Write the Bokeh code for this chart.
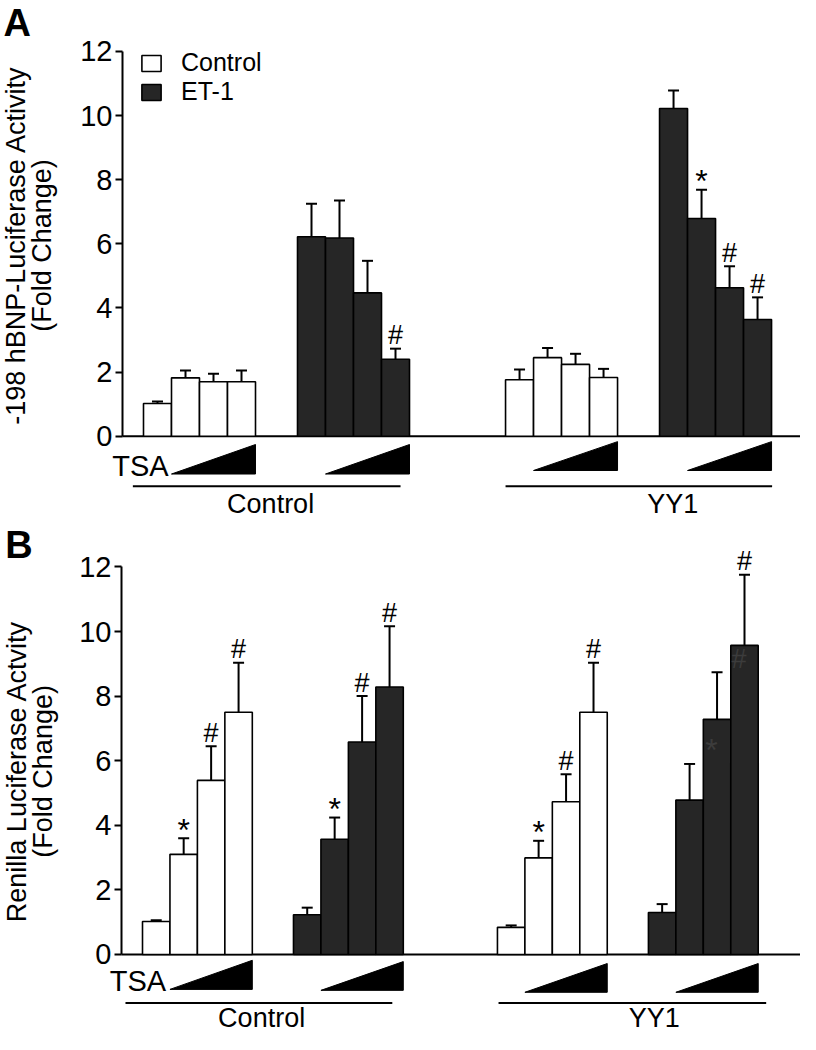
from bokeh.plotting import figure
from bokeh.models import (Range1d, Whisker, TeeHead, ColumnDataSource, Label,
                          FixedTicker, Legend, LegendItem)
from bokeh.layouts import column
from bokeh.embed import file_html
from bokeh.resources import INLINE
from bokeh.core.properties import value

# ---------------- data ----------------
vectors = ["Control", "YY1"]
treatments = ["Control", "ET-1"]
y_ticks = [0, 2, 4, 6, 8, 10, 12]

# Panel A: -198 hBNP-Luciferase activity (fold change), 4 TSA doses per group
a_ctrl_control = [1.02, 1.82, 1.70, 1.70]
a_ctrl_control_sem = [0.06, 0.23, 0.25, 0.35]
a_ctrl_et1 = [6.22, 6.18, 4.47, 2.40]
a_ctrl_et1_sem = [1.03, 1.17, 1.00, 0.33]
a_yy1_control = [1.76, 2.45, 2.24, 1.83]
a_yy1_control_sem = [0.32, 0.30, 0.33, 0.27]
a_yy1_et1 = [10.22, 6.79, 4.63, 3.64]
a_yy1_et1_sem = [0.56, 0.90, 0.67, 0.69]
a_marks = [["", "", "", ""], ["", "", "", "#"], ["", "", "", ""], ["", "*", "#", "#"]]

# Panel B: Renilla luciferase activity (fold change)
b_ctrl_control = [1.02, 3.10, 5.39, 7.50]
b_ctrl_control_sem = [0.04, 0.50, 1.06, 1.53]
b_ctrl_et1 = [1.23, 3.57, 6.58, 8.28]
b_ctrl_et1_sem = [0.22, 0.67, 1.42, 1.88]
b_yy1_control = [0.84, 2.99, 4.73, 7.50]
b_yy1_control_sem = [0.06, 0.53, 0.85, 1.53]
b_yy1_et1 = [1.30, 4.78, 7.28, 9.57]
b_yy1_et1_sem = [0.26, 1.12, 1.46, 2.19]
b_marks = [["", "*", "#", "#"], ["", "*", "#", "#"], ["", "*", "#", "#"], ["", "", "", "#"]]
b_faint_marks = [["", "", "", ""], ["", "", "", ""], ["", "", "", ""], ["", "", "*", "#"]]

FONT = "Liberation Sans"
DARK = "#262626"
GROUP_LEFT = [0.0, 5.5, 12.93, 18.43]


def make_panel(letter, ylab1, ylab2, means, sems, marks, cfg, faint=None):
    p = figure(width=800, height=cfg["height"], output_backend="svg", toolbar_location=None,
               x_range=Range1d(*cfg["xr"]), y_range=Range1d(*cfg["yr"]),
               x_axis_location=None, min_border_left=0, min_border_right=0,
               min_border_top=0, min_border_bottom=0)
    p.outline_line_color = None
    p.xgrid.visible = False
    p.ygrid.visible = False
    p.background_fill_color = "white"

    ax = p.yaxis[0]
    ax.fixed_location = cfg["axis_x"]
    ax.ticker = FixedTicker(ticks=y_ticks)
    ax.bounds = (0, 12)
    ax.axis_line_width = 2
    ax.axis_line_color = "black"
    ax.major_tick_line_width = 2
    ax.major_tick_out = 7
    ax.major_tick_in = 0
    ax.minor_tick_out = 0
    ax.minor_tick_in = 0
    ax.major_label_text_font = FONT
    ax.major_label_text_font_size = "29px"
    ax.major_label_text_color = "black"
    ax.major_label_standoff = 3

    # baseline (x axis line at zero)
    p.line(x=[cfg["axis_x"], cfg["xr"][1]], y=[0, 0], line_color="black", line_width=2)

    renderers = []
    for g in range(4):
        xs = [GROUP_LEFT[g] + i + 0.5 for i in range(4)]
        tops = means[g]
        uppers = [m + s for m, s in zip(means[g], sems[g])]
        fill = "white" if g % 2 == 0 else DARK
        src = ColumnDataSource(dict(x=xs, top=tops, upper=uppers))
        r = p.vbar(x="x", top="top", bottom=0, width=1.0, source=src,
                   fill_color=fill, line_color="black", line_width=1.6)
        renderers.append(r)
        p.add_layout(Whisker(base="x", lower="top", upper="upper", source=src,
                             line_width=2, line_color="black",
                             upper_head=TeeHead(size=11, line_width=2, line_color="black"),
                             lower_head=None))
        for sym, size, off in (("#", "27px", 0.42), ("*", "32px", 0.27)):
            mx = [xs[i] for i in range(4) if marks[g][i] == sym]
            my = [uppers[i] + off for i in range(4) if marks[g][i] == sym]
            if mx:
                p.text(x=mx, y=my, text=[sym] * len(mx), text_font=value(FONT),
                       text_font_size=size, text_align="center",
                       text_baseline="alphabetic", text_color="black")
        if faint:
            for sym, size, drop in (("#", "27px", 0.42), ("*", "32px", 0.94)):
                fx = [xs[i] - 0.2 for i in range(4) if faint[g][i] == sym]
                fy = [tops[i] - drop for i in range(4) if faint[g][i] == sym]
                if fx:
                    p.text(x=fx, y=fy, text=[sym] * len(fx), text_font=value(FONT),
                           text_font_size=size, text_align="center",
                           text_baseline="alphabetic", text_color="#3c3c3c")

        # TSA wedge under bars 2-4
        wb, wt = cfg["wedge_y"][g]
        x0 = GROUP_LEFT[g] + 1
        x1 = GROUP_LEFT[g] + 4
        p.patch(x=[x0, x1, x1], y=[wb, wb, wt], fill_color="black", line_color="black", line_width=1)

    p.text(x=[cfg["tsa_x"]], y=[cfg["wedge_y"][0][0] + 0.25], text=["TSA"], text_font=value(FONT),
           text_font_size="29px", text_align="right", text_baseline="alphabetic", text_color="black")

    for k in range(2):
        lx0, lx1 = cfg["under_x"][k]
        p.line(x=[lx0, lx1], y=[cfg["under_y"], cfg["under_y"]], line_color="black", line_width=2)
    p.text(x=cfg["vec_x"], y=[cfg["vec_y"]] * 2, text=vectors, text_font=value(FONT),
           text_font_size="27px", text_align="center", text_baseline="middle", text_color="black")

    # panel letter and y-axis title
    p.add_layout(Label(x=cfg["letter_xy"][0], y=cfg["letter_xy"][1], text=letter,
                       text_font=FONT, text_font_size="38px", text_font_style="bold",
                       text_baseline="alphabetic", text_align="left", text_color="black"))
    for lx, txt in zip(cfg["ylab_x"], [ylab1, ylab2]):
        p.add_layout(Label(x=lx, y=cfg["ylab_y"], text=txt, angle=90, angle_units="deg",
                           text_font=FONT, text_font_size="27px", text_align="center",
                           text_baseline="middle", text_color="black"))

    if cfg.get("legend"):
        for k in range(2):
            lg = Legend(items=[LegendItem(label=treatments[k], renderers=[renderers[k]])],
                        location=cfg["legend"][k], glyph_width=24, glyph_height=20,
                        label_text_font=FONT, label_text_font_size="25px",
                        label_text_color="black",
                        label_standoff=18, spacing=0, padding=0, margin=0,
                        border_line_color=None, background_fill_alpha=0,
                        label_height=20)
            p.add_layout(lg)
    return p


cfgA = dict(height=521, xr=(-5.107, 23.464), yr=(-2.661, 13.59), axis_x=-0.75,
            wedge_y=[(-1.18, -0.26), (-1.18, -0.26), (-1.07, -0.17), (-1.07, -0.17)],
            tsa_x=0.9, under_x=[(-0.38, 9.18), (12.93, 22.45)], under_y=-1.56,
            vec_x=[4.54, 18.9], vec_y=-2.10, letter_xy=(-5.0, 12.875),
            ylab_x=[-4.54, -3.61], ylab_y=5.95, legend=[(139, 444), (139, 415)])
cfgB = dict(height=513, xr=(-5.173, 23.97), yr=(-2.477, 13.406), axis_x=-0.765,
            wedge_y=[(-1.08, -0.18), (-1.11, -0.22), (-1.17, -0.28), (-1.17, -0.28)],
            tsa_x=0.86, under_x=[(-0.62, 9.1), (12.97, 22.72)], under_y=-1.5,
            vec_x=[4.34, 18.64], vec_y=-1.97, letter_xy=(-5.0, 12.69),
            ylab_x=[-4.59, -3.64], ylab_y=5.67)

pA = make_panel("A", "-198 hBNP-Luciferase Activity", "(Fold Change)",
                [a_ctrl_control, a_ctrl_et1, a_yy1_control, a_yy1_et1],
                [a_ctrl_control_sem, a_ctrl_et1_sem, a_yy1_control_sem, a_yy1_et1_sem],
                a_marks, cfgA)
pB = make_panel("B", "Renilla Luciferase Actvity", "(Fold Change)",
                [b_ctrl_control, b_ctrl_et1, b_yy1_control, b_yy1_et1],
                [b_ctrl_control_sem, b_ctrl_et1_sem, b_yy1_control_sem, b_yy1_et1_sem],
                b_marks, cfgB, faint=b_faint_marks)

layout = column(pA, pB, spacing=0)
open("out.html", "w").write(file_html(layout, INLINE))
